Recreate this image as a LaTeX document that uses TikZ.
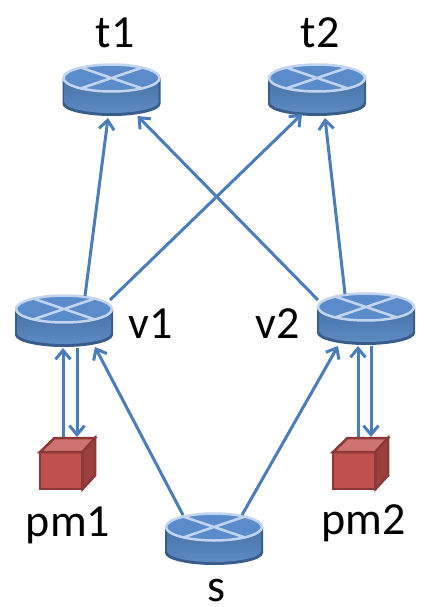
\documentclass[tikz,border=0pt]{standalone}
\usepackage{fontspec}
\setmainfont{Carlito}
\usetikzlibrary{arrows.meta,calc}
\definecolor{rbody}{HTML}{4F81BD}
\definecolor{rdark}{HTML}{385D8A}
\definecolor{rtop}{HTML}{5A8CCB}
\definecolor{rrim}{HTML}{C3D5EE}
\definecolor{linkc}{HTML}{4A7EBB}
\definecolor{cfront}{HTML}{C0504D}
\definecolor{ctop}{HTML}{CD7371}
\definecolor{cside}{HTML}{9A403E}
\definecolor{cedge}{HTML}{8C3836}
\tikzset{
  routerbox/.style={minimum width=98pt,minimum height=52pt,inner sep=0pt,outer sep=0pt},
  cubebox/.style={minimum width=57pt,minimum height=53pt,inner sep=0pt,outer sep=0pt},
  link/.style={draw=linkc,line width=3pt,-{Straight Barb[length=9pt,width=15pt,line width=3pt]}},
  lbl/.style={font=\fontsize{46}{46}\selectfont,anchor=base,inner sep=0pt},
}
\newcommand{\router}[3]{%
  \node[routerbox] (#1) at (#2,#3) {};
  \begin{scope}[shift={(#1.center)}]
    \path[fill=rdark] (-49,-12) -- (-49,14) arc[start angle=180,end angle=0,x radius=49,y radius=12] -- (49,-12) -- cycle;
    \path[top color=rbody!88!black,bottom color=rbody!92!white] (-47,-12) -- (-47,12) arc[start angle=180,end angle=0,x radius=47,y radius=11] -- (47,-12) -- cycle;
    \draw[draw=rrim,fill=rtop,line width=2.5pt] (0,-12) ellipse[x radius=48,y radius=13.5];
    \draw[draw=rrim,line width=2.5pt] (-31,-22.5) -- (31,-1.5) (31,-22.5) -- (-31,-1.5);
  \end{scope}}
\newcommand{\cube}[3]{%
  \node[cubebox] (#1) at (#2,#3) {};
  \begin{scope}[shift={(#1.center)},line width=2.5pt,line join=miter]
    \path[draw=cedge,fill=cfront] (-27.5,-11.5) rectangle (15,25.5);
    \path[draw=cedge,fill=ctop] (-27.5,-11.5) -- (-13,-25.5) -- (27.5,-25.5) -- (15,-11.5) -- cycle;
    \path[draw=cedge,fill=cside] (15,-11.5) -- (27.5,-25.5) -- (27.5,12) -- (15,25.5) -- cycle;
  \end{scope}}
\begin{document}
\begin{tikzpicture}[x=1pt,y=-1pt]
\useasboundingbox (0,0) rectangle (435,607);
\router{t1}{111.5}{90}
\router{t2}{317}{90}
\router{v1}{64}{321}
\router{v2}{366}{319}
\router{s}{214}{539}
\cube{pm1}{67.5}{463.5}
\cube{pm2}{360.5}{463.5}
\node[lbl] (lt1) at (115,48) {t1};
\node[lbl] (lt2) at (320,48) {t2};
\node[lbl] (lv1) at (151,338) {v1};
\node[lbl] (lv2) at (278,338) {v2};
\node[lbl] (lpm1) at (68,536) {pm1};
\node[lbl] (lpm2) at (363.5,534) {pm2};
\node[lbl] (ls) at (216,601) {s};
\draw[link] ([shift={(21,-25)}]v1.center) -- ([shift={(-3.5,28)}]t1.center);
\draw[link] ([shift={(46,-21)}]v1.center) -- ([shift={(-15,24)}]t2.center);
\draw[link] ([shift={(-21,-25)}]v2.center) -- ([shift={(8,28)}]t2.center);
\draw[link] ([shift={(-48,-19)}]v2.center) -- ([shift={(26,26)}]t1.center);
\draw[link] ([shift={(-31,-24)}]s.center) -- ([shift={(31,26)}]v1.center);
\draw[link] ([shift={(28,-24)}]s.center) -- ([shift={(-28,27)}]v2.center);
\draw[link] ([shift={(-4.5,0)}]pm1.north) -- ([shift={(-1,1)}]v1.south);
\draw[link] ([shift={(13,1)}]v1.south) -- ([shift={(9.5,0)}]pm1.north);
\draw[link] ([shift={(-2.5,0)}]pm2.north) -- ([shift={(-8,1)}]v2.south);
\draw[link] ([shift={(5,1)}]v2.south) -- ([shift={(10.5,0)}]pm2.north);
\end{tikzpicture}
\end{document}
